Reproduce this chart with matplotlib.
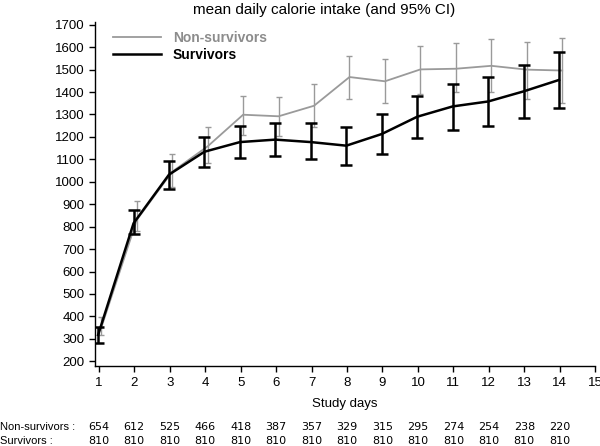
import numpy as np
import matplotlib
matplotlib.use('Agg')
import matplotlib.pyplot as plt
from matplotlib.lines import Line2D
from matplotlib import font_manager

names = set(f.name for f in font_manager.fontManager.ttflist)
narrow = 'Liberation Sans Narrow' if 'Liberation Sans Narrow' in names else 'Liberation Sans'

days = np.arange(1, 15)
# non-survivors: mean, lower, upper
ns_mean = [350, 830, 1045, 1158, 1299, 1292, 1339, 1467, 1448, 1501, 1504, 1517, 1500, 1496]
ns_low = [315, 779, 975, 1084, 1210, 1203, 1244, 1370, 1351, 1391, 1400, 1399, 1370, 1351]
ns_high = [398, 913, 1125, 1244, 1384, 1378, 1437, 1563, 1547, 1606, 1618, 1636, 1623, 1639]
# survivors: mean, lower, upper
s_mean = [317, 815, 1032, 1134, 1177, 1188, 1177, 1161, 1213, 1290, 1336, 1358, 1403, 1454]
s_low = [282, 765, 968, 1064, 1106, 1116, 1102, 1075, 1124, 1195, 1232, 1250, 1286, 1327]
s_high = [352, 873, 1091, 1198, 1247, 1262, 1262, 1243, 1302, 1381, 1436, 1465, 1520, 1578]

n_ns = [654, 612, 525, 466, 418, 387, 357, 329, 315, 295, 274, 254, 238, 220]
n_s = [810] * 14

fig = plt.figure(figsize=(6, 4.46), dpi=100)
ax = fig.add_axes([0.158, 0.179, 0.834, 0.772])

gray = '#9a9a9a'
x_ns = days + 0.07
x_s = days - 0.02

ns_err = [np.array(ns_mean) - np.array(ns_low), np.array(ns_high) - np.array(ns_mean)]
s_err = [np.array(s_mean) - np.array(s_low), np.array(s_high) - np.array(s_mean)]

ax.errorbar(x_ns, ns_mean, yerr=ns_err, color=gray, lw=1.3, elinewidth=1.0,
            capsize=2.5, capthick=1.0, zorder=2)
ax.errorbar(x_s, s_mean, yerr=s_err, color='black', lw=1.8, elinewidth=1.8,
            capsize=4.5, capthick=1.8, zorder=3)

ax.set_xlim(0.887, 15)
ax.set_ylim(178, 1713)
ax.set_xticks(np.arange(1, 16))
ax.set_yticks(np.arange(200, 1701, 100))
for s in ['top', 'right']:
    ax.spines[s].set_visible(False)
for s in ['left', 'bottom']:
    ax.spines[s].set_linewidth(1.0)
ax.tick_params(direction='out', length=4, width=1.0, labelsize=9.5)
for lab in ax.get_xticklabels() + ax.get_yticklabels():
    lab.set_family(narrow)

ax.set_xlabel('Study days', family=narrow, fontsize=9.5, labelpad=7)

handles = [Line2D([], [], color=gray, lw=1.3), Line2D([], [], color='black', lw=1.8)]
leg = ax.legend(handles, ['Non-survivors', 'Survivors'], loc='upper left',
                bbox_to_anchor=(0.012, 1.01), frameon=False,
                handlelength=3.45, handletextpad=0.85, labelspacing=0.2,
                prop={'family': 'Liberation Sans', 'weight': 'bold', 'size': 10})
leg.get_texts()[0].set_color('#8c8c8c')

fig.text(0.54, 0.978, 'mean daily calorie intake (and 95% CI)', ha='center', va='center',
         fontsize=11, family=narrow)

fig.text(0.0, 0.042, 'Non-survivors :', fontsize=8, va='center', ha='left', family='Liberation Sans')
fig.text(0.0, 0.012, 'Survivors :', fontsize=8, va='center', ha='left', family='Liberation Sans')
for d, a, b in zip(days, n_ns, n_s):
    xf = fig.transFigure.inverted().transform(ax.transData.transform((d, 0)))[0]
    fig.text(xf, 0.042, str(a), fontsize=8, ha='center', va='center')
    fig.text(xf, 0.012, str(b), fontsize=8, ha='center', va='center')

fig.savefig('out.png', dpi=100)
